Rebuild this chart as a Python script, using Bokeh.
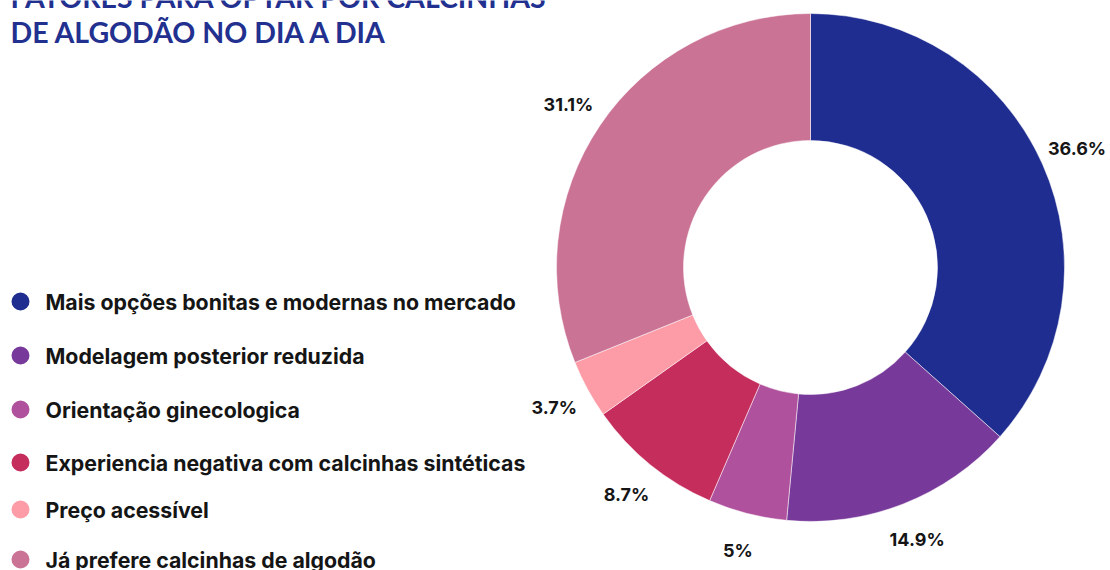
import math
from bokeh.plotting import figure
from bokeh.models import ColumnDataSource, Range1d
from bokeh.core.properties import value
from bokeh.embed import file_html
from bokeh.resources import INLINE

# ---- data ----
categories = [
    "Mais opções bonitas e modernas no mercado",
    "Modelagem posterior reduzida",
    "Orientação ginecologica",
    "Experiencia negativa com calcinhas sintéticas",
    "Preço acessível",
    "Já prefere calcinhas de algodão",
]
percent = [36.6, 14.9, 5.0, 8.7, 3.7, 31.1]
labels = ["36.6%", "14.9%", "5%", "8.7%", "3.7%", "31.1%"]
colors = ["#1f2d90", "#783a9a", "#b0519d", "#c52d5d", "#fd9ba6", "#cb7395"]
title_lines = ["FATORES PARA OPTAR POR CALCINHAS", "DE ALGODÃO NO DIA A DIA"]

# ---- layout ----
W, H = 1110, 570
cx, cy = 810, H - 267
r_out, r_in, r_lab = 254, 127, 292

total = sum(percent)
starts, ends, mids = [], [], []
a = math.pi / 2
for v in percent:
    span = 2 * math.pi * v / total
    starts.append(a)
    ends.append(a - span)
    mids.append(a - span / 2)
    a -= span

p = figure(width=W, height=H, x_range=Range1d(0, W), y_range=Range1d(0, H),
           output_backend="svg", toolbar_location=None, min_border=0)
p.axis.visible = False
p.grid.visible = False
p.outline_line_color = None
p.background_fill_color = "white"
p.border_fill_color = "white"

src = ColumnDataSource(dict(start=starts, end=ends, color=colors))
p.annular_wedge(x=cx, y=cy, inner_radius=r_in, outer_radius=r_out,
                start_angle="end", end_angle="start", color="color",
                line_color="white", line_width=0.5, source=src)

lab_src = ColumnDataSource(dict(
    x=[cx + r_lab * math.cos(m) for m in mids],
    y=[cy + r_lab * math.sin(m) for m in mids],
    t=labels))
p.text(x="x", y="y", text="t", source=lab_src, text_align="center",
       text_baseline="middle", text_font=value("Inter"), text_font_style="bold",
       text_font_size="18px", text_color="#151515")

# title (first line partly cut off at the top, as in the original)
p.text(x=[10, 10], y=[H + 4, H - 31], text=title_lines,
       text_font=value("Lato"), text_font_size="28.5px", text_font_style="bold",
       text_color="#22308f", text_baseline="alphabetic")

# legend
leg_y = [301, 355, 409, 462, 509, 559]
p.scatter(x=[20] * 6, y=[H - v for v in leg_y], size=18, color=colors,
          marker="circle", line_color=None)
p.text(x=[45] * 6, y=[H - v for v in leg_y], text=categories,
       text_font=value("Inter"), text_font_style="bold", text_font_size="21.3px",
       text_color="#151515", text_baseline="middle")

open("out.html", "w").write(file_html(p, INLINE))
